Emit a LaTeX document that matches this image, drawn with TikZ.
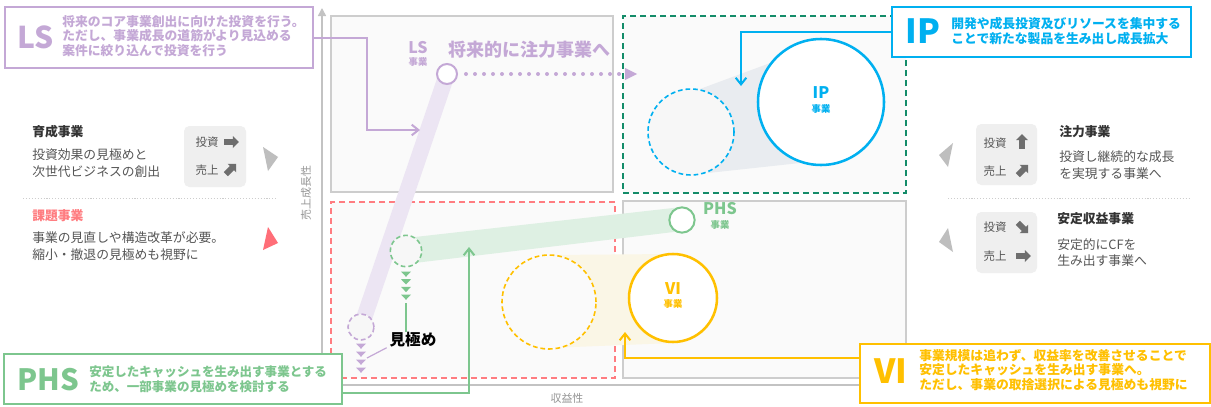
\documentclass[tikz,border=0pt]{standalone}
\usepackage{fontspec}
\setmainfont{Noto Sans CJK JP}
\usetikzlibrary{arrows.meta,shapes.arrows,fit}
\definecolor{lav}{RGB}{196,168,214}
\definecolor{lavband}{RGB}{236,229,243}
\definecolor{ipblue}{RGB}{0,176,240}
\definecolor{phsgreen}{RGB}{125,198,142}
\definecolor{greenband}{RGB}{222,240,227}
\definecolor{viyellow}{RGB}{255,192,0}
\definecolor{yelband}{RGB}{250,246,230}
\definecolor{kred}{RGB}{255,124,128}
\definecolor{dkgreen}{RGB}{20,140,105}
\definecolor{quadfill}{RGB}{250,250,250}
\definecolor{quadline}{RGB}{205,205,205}
\definecolor{axisgray}{RGB}{195,195,195}
\definecolor{ipband}{RGB}{233,236,240}
\definecolor{boxgray}{RGB}{239,239,239}
\definecolor{icongray}{RGB}{110,110,110}
\definecolor{txtdark}{RGB}{51,51,51}
\definecolor{txtbody}{RGB}{85,85,85}
\definecolor{trigray}{RGB}{190,190,190}
\definecolor{trired}{RGB}{255,110,120}
\definecolor{ghostfill}{RGB}{247,247,247}
\definecolor{axistxt}{RGB}{150,150,150}
\begin{document}
\begin{tikzpicture}[x=0.75pt,y=-0.75pt,
  quad/.style={draw=quadline, fill=quadfill, line width=0.9pt, inner sep=0pt},
  quaddash/.style={fill=quadfill, line width=1.9pt, dash pattern=on 4.5pt off 3pt, inner sep=0pt},
  callout/.style={fill=white, line width=1.6pt, inner sep=0pt},
  bigl/.style={font=\fontsize{#1}{#1}\selectfont\bfseries, inner sep=0pt},
  ctext/.style={font=\fontsize{9.6}{11}\selectfont\bfseries, align=left, anchor=west, inner sep=0pt},
  conn/.style={line width=1.5pt, -{Straight Barb[length=5pt,width=8pt,line width=1.5pt]}},
  ring/.style={circle, draw, fill=white, inner sep=0pt, line width=1.5pt},
  ghost/.style={circle, draw, fill=ghostfill, inner sep=0pt, line width=1.2pt, dash pattern=on 3.5pt off 2.2pt},
  clabel/.style={font=\fontsize{12}{12}\selectfont\bfseries, inner sep=0pt},
  csub/.style={font=\fontsize{7}{7}\selectfont\bfseries, inner sep=0pt},
  ptitle/.style={font=\fontsize{9.6}{11}\selectfont\bfseries, anchor=west, inner sep=0pt, text=txtdark},
  pbody/.style={font=\fontsize{9.6}{12.3}\selectfont, align=left, anchor=west, inner sep=0pt, text=txtbody},
  boxg/.style={fill=boxgray, rounded corners=4pt, inner sep=0pt},
  smalltxt/.style={font=\fontsize{8.6}{9}\selectfont, text=txtbody, inner sep=0pt},
  arrowicon/.style={single arrow, fill=icongray, minimum height=11pt, inner xsep=0pt, inner ysep=2pt, single arrow head extend=2.3pt, single arrow head indent=0pt},
  sep/.style={draw=quadline, line width=0.7pt, dash pattern=on 0.8pt off 1.4pt},
  axistext/.style={font=\fontsize{8.2}{9}\selectfont, text=axistxt, inner sep=0pt}
]
\useasboundingbox (0,0) rectangle (1211,407);
\fill[white] (0,0) rectangle (1211,407);

% axes
\coordinate (origin) at (322,385);
\coordinate (ytop) at (322,8);
\coordinate (xend) at (880,385);
\draw[axisgray, line width=1.1pt] (origin) -- (xend);
\draw[axisgray, line width=1.1pt, -{Triangle[length=6pt,width=6pt]}] (origin) -- (ytop);

% quadrants
\node[quad, fit={(331,16)(613,192)}] (qls) {};
\node[quaddash, draw=dkgreen, fit={(623,16)(906,193)}] (qip) {};
\node[quaddash, draw=kred, fit={(331,202)(615,378)}] (qphs) {};
\node[quad, fit={(623,201)(906,378)}] (qvi) {};

% bands
\fill[ipband] (691,132) -- (700,89) -- (773,62) -- (821,102) -- (800,163) -- (708,173) -- cycle;
\fill[greenband] (406,238) -- (682,207) -- (682,231) -- (406,264) -- cycle;
\fill[yelband] (549,255) -- (673,254) -- (673,343) -- (549,348) -- cycle;
\coordinate (lsbandtop) at (447,74);
\coordinate (lsbandbot) at (361,327);
\draw[lavband, line width=12pt] (lsbandtop) -- (lsbandbot);

% circles
\node[ghost, draw=ipblue, minimum size=64.5pt] (ipghost) at (691,132) {};
\node[ring, draw=ipblue, line width=1.9pt, minimum size=94.5pt] (ipc) at (821,102) {};
\node[ring, draw=lav, minimum size=15pt] (lsc) at (447,74) {};
\node[ghost, draw=lav, minimum size=19.5pt] (lsghost) at (361,327) {};
\node[ghost, draw=phsgreen, minimum size=23.5pt] (phsghost) at (406,251) {};
\node[ring, draw=phsgreen, minimum size=19pt] (phsc) at (682,220) {};
\node[ghost, draw=viyellow, fill=quadfill, minimum size=70.5pt] (vighost) at (549,302) {};
\node[ring, draw=viyellow, line width=1.9pt, minimum size=66pt] (vic) at (673,298) {};

% circle labels
\node[clabel, text=ipblue] (iplab) at (821,93) {IP};
\node[csub, text=ipblue] (ipsub) at (821,109) {事業};
\node[clabel, text=lav] (lslab) at (418,48) {LS};
\node[csub, text=lav] (lssub) at (418,62) {事業};
\node[clabel, text=phsgreen] (phslab) at (720,209) {PHS};
\node[csub, text=phsgreen] (phssub) at (720,225) {事業};
\node[clabel, text=viyellow] (vilab) at (673,289) {VI};
\node[csub, text=viyellow] (visub) at (673,304) {事業};
\node[font=\fontsize{13.5}{14}\selectfont\bfseries, text=lav, inner sep=0pt] (future) at (529,50) {将来的に注力事業へ};

% dotted LS -> IP
\coordinate (lstip) at (628,74);
\draw[lav, line width=3pt, dash pattern=on 0pt off 6.75pt, line cap=round, shorten <=6pt, shorten >=3pt] (lsc.east) -- (lstip);
\fill[lav] (lstip) ++(-3,-6) -- ++(12,6) -- ++(-12,6) -- cycle;

% small down triangles
\foreach \yy in {274,281.7,289.3,297}
  \fill[phsgreen] (401,\yy-2.5) -- (411,\yy-2.5) -- (406,\yy+2.8) -- cycle;
\foreach \yy in {346,354,362,370}
  \fill[lav] (356,\yy-2.5) -- (366,\yy-2.5) -- (361,\yy+2.8) -- cycle;

\node[font=\fontsize{11.7}{12}\selectfont\bfseries, inner sep=0pt] (mk) at (413,340) {見極め};
\coordinate (gtrib) at (406,303);
\coordinate (ltrib) at (367,358);
\draw[phsgreen, line width=0.9pt] (gtrib) -- (gtrib |- mk.north);
\draw[lav, line width=0.9pt] (ltrib) -- ([xshift=-2pt]mk.south west);

% callout connectors
\coordinate (lsbend) at (367,130);
\coordinate (lsarrow) at (420,130);
\coordinate (iparrow) at (741,86);
\coordinate (phsbend) at (469,393);
\coordinate (phsarrow) at (469,247);
\coordinate (vibend) at (625,358);
\coordinate (viarrow) at (625,332);

% callout boxes
\node[callout, draw=lav, fit={(5,7)(313,68)}] (lsbox) {};
\node[callout, draw=ipblue, fit={(892,7)(1191,57)}] (ipbox) {};
\node[callout, draw=phsgreen, fit={(4,354)(342,404)}] (phsbox) {};
\node[callout, draw=viyellow, fit={(860,344)(1210,403)}] (vibox) {};

\draw[lav, conn] (lsbox.east) -| (lsbend) -- (lsarrow);
\draw[ipblue, conn] (ipbox.west) -| (iparrow);
\draw[phsgreen, conn] (phsbox.east |- phsbend) -- (phsbend) -- (phsarrow);
\draw[viyellow, conn] (vibox.west |- vibend) -- (vibend) -- (viarrow);

\node[bigl=22.5, text=lav] (lsbig) at (36,37) {LS};
\node[ctext, text=lav] (lstext) at (62,36) {将来のコア事業創出に向けた投資を行う。\\ただし、事業成長の道筋がより見込める\\案件に絞り込んで投資を行う};
\node[bigl=25, text=ipblue] (ipbig) at (923,31) {IP};
\node[ctext, text=ipblue, font=\fontsize{9.6}{11.3}\selectfont\bfseries] (iptext) at (951,31) {開発や成長投資及びリソースを集中する\\ことで新たな製品を生み出し成長拡大};
\node[bigl=22, text=phsgreen] (phsbig) at (48,380) {PHS};
\node[ctext, text=phsgreen, font=\fontsize{9.4}{11.2}\selectfont\bfseries] (phstext) at (89,379) {安定したキャッシュを生み出す事業とする\\ため、一部事業の見極めを検討する};
\node[bigl=25, text=viyellow] (vibig) at (891,371) {VI};
\node[ctext, text=viyellow, font=\fontsize{9.6}{10.6}\selectfont\bfseries] (vitext) at (919,370) {事業規模は追わず、収益率を改善させることで\\安定したキャッシュを生み出す事業へ。\\ただし、事業の取捨選択による見極めも視野に};

% axis labels
\node[axistext, rotate=90] (ylab) at (306,193) {売上成長性};
\node[axistext] (xlab) at (567,398) {収益性};

% left panel
\node[ptitle] (t1) at (32,132) {育成事業};
\node[pbody] (b1) at (32,163) {投資効果の見極めと\\次世代ビジネスの創出};
\node[boxg, fit={(184,126)(246,187)}] (lbox) {};
\node[smalltxt] (linv) at (207,142) {投資};
\node[arrowicon] (linva) at (230,142) {};
\node[smalltxt] (lsal) at (207,170) {売上};
\node[arrowicon, rotate=45] (lsala) at (230,170) {};
\fill[trigray] (263,147) -- (278,157) -- (268,171) -- cycle;
\draw[sep] (23,198) -- (277,198);
\node[ptitle, text=kred] (t2) at (32,216) {課題事業};
\node[pbody] (b2) at (32,246) {事業の見直しや構造改革が必要。\\縮小・撤退の見極めも視野に};
\fill[trired] (268,227) -- (278,243) -- (263,250) -- cycle;

% right panel
\fill[trigray] (953,143) -- (939,155) -- (948,167) -- cycle;
\node[boxg, fit={(976,124)(1037,185)}] (rbox1) {};
\node[smalltxt] (r1inv) at (995,143) {投資};
\node[arrowicon, rotate=90] (r1inva) at (1022,143) {};
\node[smalltxt] (r1sal) at (995,171) {売上};
\node[arrowicon, rotate=45] (r1sala) at (1022,171) {};
\node[ptitle] (t3) at (1059,132) {注力事業};
\node[pbody] (b3) at (1059,165) {投資し継続的な成長\\を実現する事業へ};
\draw[sep] (948,198) -- (1191,198);
\fill[trigray] (948,228) -- (939,242) -- (953,252) -- cycle;
\node[boxg, fit={(976,212)(1037,273)}] (rbox2) {};
\node[smalltxt] (r2inv) at (995,227) {投資};
\node[arrowicon, rotate=-45] (r2inva) at (1022,227) {};
\node[smalltxt] (r2sal) at (995,256) {売上};
\node[arrowicon] (r2sala) at (1022,256) {};
\node[ptitle] (t4) at (1057,219) {安定収益事業};
\node[pbody] (b4) at (1057,252.5) {安定的にCFを\\生み出す事業へ};
\end{tikzpicture}
\end{document}
